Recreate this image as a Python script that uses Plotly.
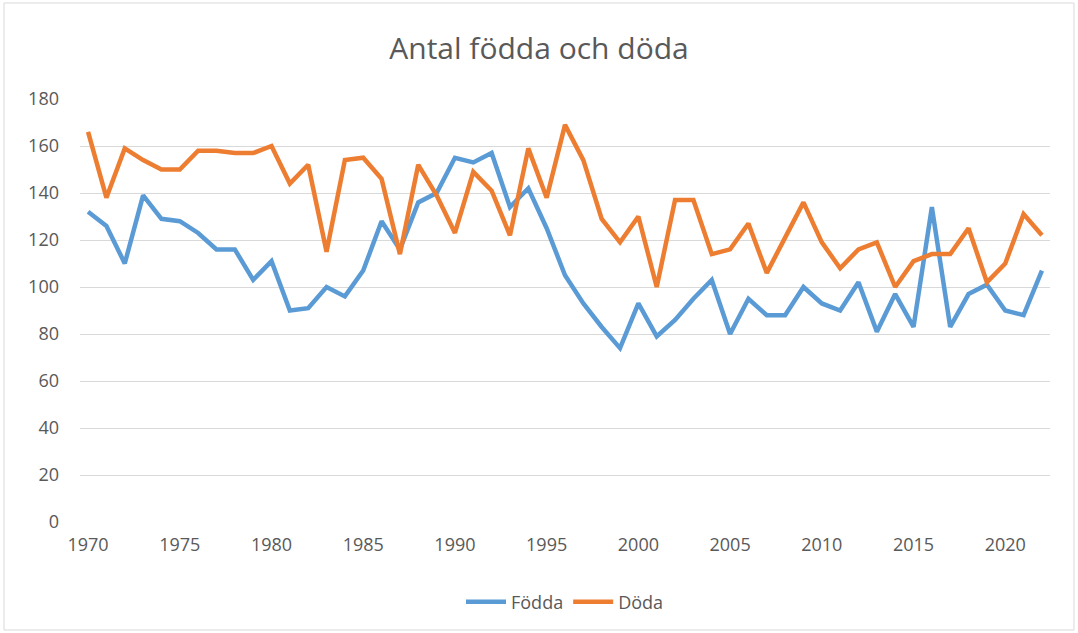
import plotly.graph_objects as go

years = list(range(1970, 2023))
fodda = [132, 126, 110, 139, 129, 128, 123, 116, 116, 103,
         111, 90, 91, 100, 96, 107, 128, 116, 136, 140,
         155, 153, 157, 134, 142, 125, 105, 93, 83, 74,
         93, 79, 86, 95, 103, 80, 95, 88, 88, 100,
         93, 90, 102, 81, 97, 83, 134, 83, 97, 101,
         90, 88, 107]
doda = [166, 138, 159, 154, 150, 150, 158, 158, 157, 157,
        160, 144, 152, 115, 154, 155, 146, 114, 152, 139,
        123, 149, 141, 122, 159, 138, 169, 154, 129, 119,
        130, 100, 137, 137, 114, 116, 127, 106, 121, 136,
        119, 108, 116, 119, 100, 111, 114, 114, 125, 102,
        110, 131, 122]
x_ticks = list(range(1970, 2021, 5))
y_ticks = list(range(0, 181, 20))

FONT = "Open Sans, sans-serif"
GRAY = "#595959"

fig = go.Figure()
fig.add_trace(go.Scatter(x=years, y=fodda, name="Födda", mode="lines",
                         line=dict(color="#5B9BD5", width=4.5)))
fig.add_trace(go.Scatter(x=years, y=doda, name="Döda", mode="lines",
                         line=dict(color="#ED7D31", width=4.5)))

fig.update_layout(
    width=1078, height=633,
    margin=dict(l=80, r=28, t=99, b=111),
    paper_bgcolor="white", plot_bgcolor="white",
    font=dict(family=FONT, color=GRAY, size=18),
    title=dict(text="Antal födda och döda", x=0.5, xanchor="center",
               y=1 - 48 / 633, yanchor="middle",
               font=dict(size=30, color=GRAY, family=FONT)),
    xaxis=dict(range=[1969.56, 2022.44], tickvals=x_ticks,
               showgrid=False, zeroline=False, showline=False,
               ticks="", ticklabelstandoff=10),
    yaxis=dict(range=[0, 180], tickvals=y_ticks, showgrid=True,
               gridcolor="#D9D9D9", gridwidth=1.3, zeroline=False,
               showline=False, ticks="", ticklabelstandoff=20),
    legend=dict(orientation="h", x=0.5, xanchor="center",
                y=-(602 - 522) / (522 - 99), yanchor="middle",
                font=dict(size=18, color=GRAY, family=FONT),
                itemwidth=40),
    shapes=[dict(type="rect", xref="paper", yref="paper",
                 x0=-76 / 970, x1=1 + 24 / 970,
                 y0=-(630 - 522) / 423, y1=1 + 96 / 423,
                 line=dict(color="#D9D9D9", width=1), layer="below")],
)

fig.write_html("out.html", config={"displayModeBar": False},
               post_script="document.body.style.margin='0';")
